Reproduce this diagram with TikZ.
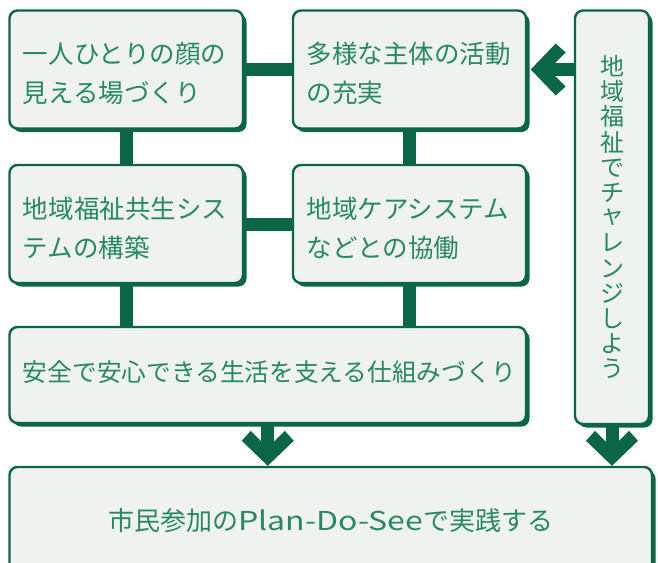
\documentclass[tikz,border=0pt]{standalone}
\usepackage{fontspec}
\newfontfamily\cjk{Noto Sans CJK JP}
\usetikzlibrary{shadows}
\definecolor{dkg}{HTML}{0B6645}
\definecolor{txg}{HTML}{268A60}
\definecolor{bxf}{HTML}{F0F2EF}
\pgfdeclarelayer{back}
\pgfdeclarelayer{links}
\pgfsetlayers{back,links,main}
\newcommand\toppad{\rule{0pt}{30pt}}
\newcommand\botpad{\rule[-8pt]{0pt}{8pt}}
\tikzset{
  box/.style={draw=dkg, line width=2.4pt, fill=bxf, rounded corners=8pt,
    drop shadow={shadow xshift=3.5pt, shadow yshift=-3.5pt, fill=dkg, opacity=1},
    text=txg, font=\cjk\fontsize{25.5}{39}\selectfont,
    inner xsep=13.5pt, inner ysep=0pt, align=left},
  vbox/.style={box, font=\cjk\fontsize{24}{25.2}\selectfont, align=center, inner xsep=0pt},
  link/.style={draw=dkg, line width=13pt},
  head/.style={fill=dkg},
}
\begin{document}
\begin{tikzpicture}[x=1pt,y=-1pt]
\useasboundingbox (0,0) rectangle (658,562);
\begin{pgfonlayer}{back}
  \fill[white] (0,0) rectangle (658,562);
\end{pgfonlayer}

\node[box, text width=206.5pt, minimum height=118pt] (A) at (126.25,69.5)
  {\toppad 一人ひとりの顔の\\見える場づくり};
\node[box, text width=206pt, minimum height=118pt] (B) at (409.5,69.5)
  {\toppad 多様な主体の活動\\の充実};
\node[box, text width=206.5pt, minimum height=118pt] (C) at (126.25,224)
  {\toppad 地域福祉共生シス\\テムの構築};
\node[box, text width=206pt, minimum height=118pt] (D) at (409.5,224)
  {\toppad 地域ケアシステム\\などとの協働};
\node[box, text width=489.5pt, minimum height=96pt, font=\cjk\fontsize{24.7}{39}\selectfont] (E) at (267.75,375)
  {安全で安心できる生活を支える仕組みづくり\botpad};
\node[vbox, minimum width=74pt, minimum height=413.5pt] (R) at (612,217.25)
  {地\\域\\福\\祉\\で\\チ\\\raisebox{0.12em}{ャ}\\レ\\ン\\ジ\\し\\よ\\う};
\node[box, align=center, minimum width=642.5pt, minimum height=108pt, font=\cjk\fontsize{26}{39}\selectfont] (F) at (330.75,521)
  {市民参加の\scalebox{1.23}[1]{Plan-Do-See}で実践する};

\begin{pgfonlayer}{links}
  \draw[link] (A.center) -- (B.center);
  \draw[link] (A.center) -- (C.center);
  \draw[link] (B.center) -- (D.center);
  \draw[link] (C.center) -- (D.center);
  \draw[link] (C.center) -- (C.center |- E.center);
  \draw[link] (D.center) -- (D.center |- E.center);
  \draw[link, shorten >=10pt] (E.center) -- (E.center |- F.north);
  \draw[link, shorten >=10pt] (R.center) -- (R.center |- F.north);
  \draw[link, shorten >=10pt] (R.center |- B.center) -- ([xshift=3.5pt]B.east);
\end{pgfonlayer}

\coordinate (t1) at (E.center |- F.north);
\coordinate (t2) at (R.center |- F.north);
\coordinate (t3) at ([xshift=3.5pt]B.east);
\fill[head] (t1) -- ++(-26,-25) -- ++(9,-10) -- ++(10.5,10.5) -- ++(13,0) -- ++(10.5,-10.5) -- ++(9,10) -- cycle;
\fill[head] (t2) -- ++(-26,-25) -- ++(9,-10) -- ++(10.5,10.5) -- ++(13,0) -- ++(10.5,-10.5) -- ++(9,10) -- cycle;
\fill[head] (t3) -- ++(25,-26) -- ++(10,9) -- ++(-10.5,10.5) -- ++(0,13) -- ++(10.5,10.5) -- ++(-10,9) -- cycle;
\end{tikzpicture}
\end{document}
